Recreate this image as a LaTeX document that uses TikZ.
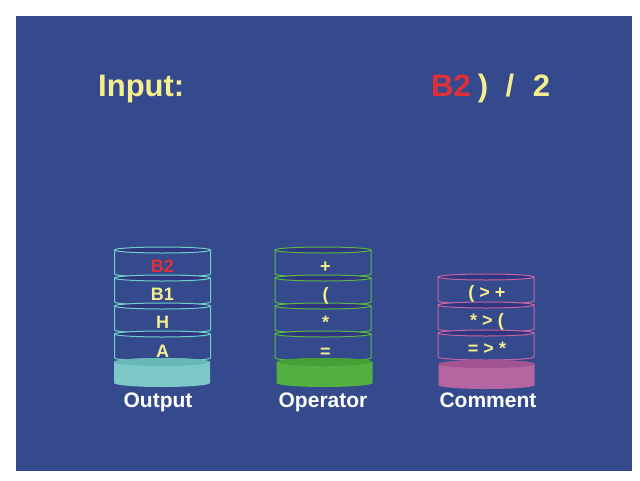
\documentclass[tikz,border=0pt]{standalone}
\usepackage{fontspec}
\setmainfont{Liberation Sans}
\definecolor{panel}{HTML}{354A8C}
\definecolor{layertop}{HTML}{30357F}
\definecolor{pale}{HTML}{F5EE8C}
\definecolor{hot}{HTML}{E0303A}
\definecolor{outline}{HTML}{6ED2C8}
\definecolor{outfill}{HTML}{7CC8C8}
\definecolor{outdark}{HTML}{68B8B8}
\definecolor{opline}{HTML}{5AB842}
\definecolor{opfill}{HTML}{52B040}
\definecolor{opdark}{HTML}{46A036}
\definecolor{cmline}{HTML}{C464A4}
\definecolor{cmfill}{HTML}{B565A0}
\definecolor{cmdark}{HTML}{A25490}

% one open ring of a stack: top ellipse, sides and front rim
\newcommand\stacklayer[3]{%
  \draw[#3, line width=1pt, fill=layertop] (#1,-#2) ellipse [x radius=48pt, y radius=3pt];
  \draw[#3, line width=1pt] (#1-48,-#2) -- (#1-48,-#2-24)
    arc[start angle=180, end angle=360, x radius=48pt, y radius=3pt] -- (#1+48,-#2);
}
% solid foot of a stack
\newcommand\stackfoot[4]{%
  \fill[#3] (#1-48,-#2) -- (#1-48,-#2-21)
    arc[start angle=180, end angle=360, x radius=48pt, y radius=4pt]
    -- (#1+48,-#2) arc[start angle=0, end angle=180, x radius=48pt, y radius=4pt] -- cycle;
  \fill[#4] (#1,-#2) ellipse [x radius=48pt, y radius=4pt];
}

\tikzset{
  heading/.style={font=\fontsize{31}{31}\selectfont\bfseries, text=pale, inner sep=0pt, anchor=base},
  cell/.style={font=\fontsize{18}{18}\selectfont\bfseries, text=pale, inner sep=0pt, anchor=base},
  caption/.style={font=\fontsize{21}{21}\selectfont\bfseries, text=white, inner sep=0pt, anchor=base}
}

\begin{document}
\begin{tikzpicture}[x=1pt, y=1pt]
  \useasboundingbox (0,0) rectangle (640,-480);
  \fill[white] (0,0) rectangle (640,-480);
  \fill[panel] (16,-16) rectangle (632,-471);

  % input line
  \node[heading, anchor=base west] (inlabel) at (98,-96) {Input:};
  \node[heading, anchor=base west, text=hot] (tokB) at (431,-96) {B2};
  \node[heading] (tokParen) at (483,-96) {)};
  \node[heading] (tokSlash) at (510,-96) {/};
  \node[heading] (tokTwo) at (541.5,-96) {2};

  % output stack
  \foreach \k [evaluate=\k as \ty using int(250+28*\k)] in {0,...,3} { \stacklayer{162.5}{\ty}{outline} }
  \stackfoot{162}{362}{outfill}{outdark}
  \node[cell, text=hot] (out1) at (162.5,-272) {B2};
  \node[cell] (out2) at (162.5,-300) {B1};
  \node[cell] (out3) at (162.5,-328.5) {H};
  \node[cell] (out4) at (162.5,-357) {A};
  \node[caption] (outcap) at (158,-407) {Output};

  % operator stack
  \foreach \k [evaluate=\k as \ty using int(250+28*\k)] in {0,...,3} { \stacklayer{323}{\ty}{opline} }
  \stackfoot{324.5}{362}{opfill}{opdark}
  \node[cell] (op1) at (325.5,-272) {+};
  \node[cell] (op2) at (325.5,-300) {(};
  \node[cell] (op3) at (325.5,-328.5) {*};
  \node[cell] (op4) at (325.5,-357) {=};
  \node[caption] (opcap) at (323,-407) {Operator};

  % comment stack
  \foreach \k [evaluate=\k as \ty using int(277+28*\k)] in {0,...,2} { \stacklayer{486}{\ty}{cmline} }
  \stackfoot{486.5}{364}{cmfill}{cmdark}
  \node[cell] (cm1) at (487,-298) {( > +};
  \node[cell] (cm2) at (487,-326) {* > (};
  \node[cell] (cm3) at (487,-354) {= > *};
  \node[caption] (cmcap) at (488,-407) {Comment};
\end{tikzpicture}
\end{document}
